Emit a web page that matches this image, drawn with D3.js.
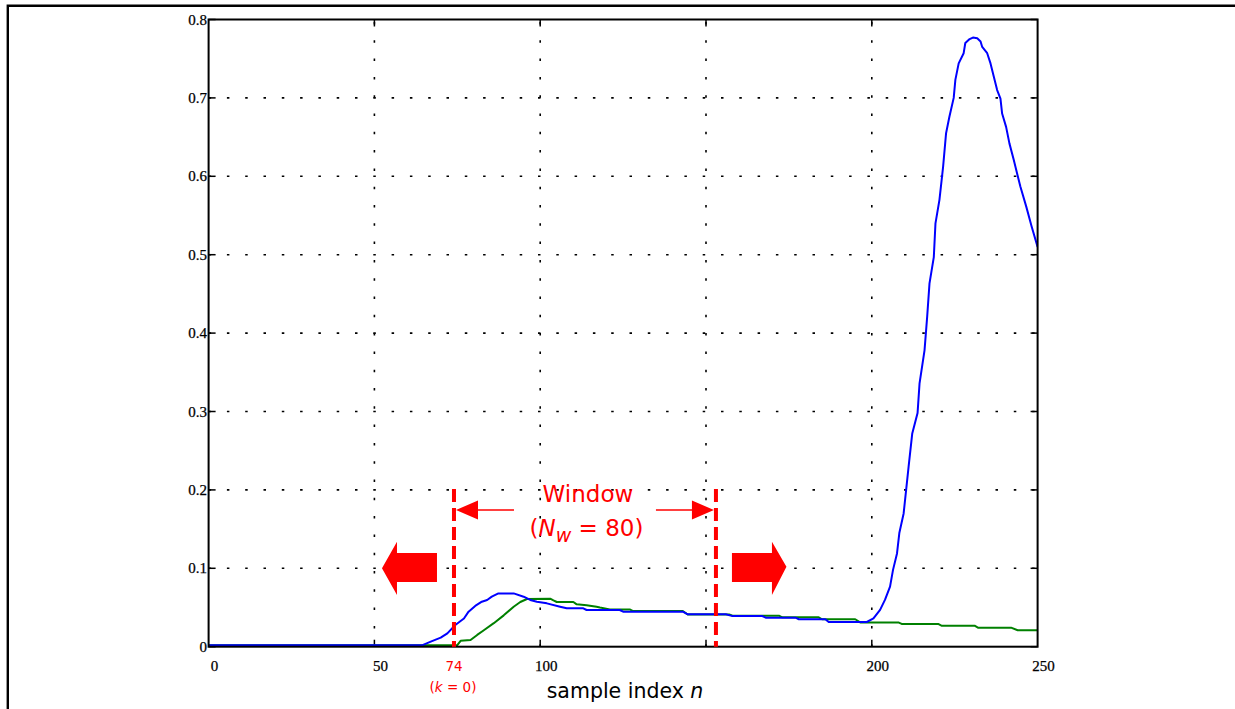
<!DOCTYPE html>
<html>
<head>
<meta charset="utf-8">
<script src="https://cdn.jsdelivr.net/npm/d3@7"></script>
<style>
  html, body { margin: 0; padding: 0; background: #fff; }
  svg { display: block; }
</style>
</head>
<body>
<svg id="chart" width="1235" height="709"></svg>
<script>
// Sample indices and values of the blue trace
const blueN = [0, 64.5, 67, 70, 72, 74.4, 77, 78.4, 80.4, 82.4, 84, 85.4, 87.4, 92, 95, 97, 99, 102, 106, 108, 113, 114, 124, 125, 143, 144.5, 156, 158, 167, 168, 177, 178, 186, 187, 198.5,
  200.5, 202.5, 204, 205.5, 206.4, 207.6, 208.3, 209.6, 211.1, 212.2, 213.8, 214.4, 215.9, 216.7, 217.4, 218.7, 219.2, 220.4, 221.5, 222.4, 223.4, 224.7, 225.2, 226.2, 227.7, 228.2, 229.5, 230.5, 231.8,
  232.8, 233.3, 234.8, 235.8, 236.8, 237.8, 238.8, 239.3, 240.5, 241.5, 242.8, 243.8, 244.8, 246.6, 248.2, 250];
const blueV = [0.002, 0.002, 0.0064, 0.0115, 0.017, 0.0277, 0.036, 0.0447, 0.052, 0.0574, 0.0596, 0.0638, 0.068, 0.068, 0.0638, 0.0596, 0.0574, 0.0553, 0.051, 0.049, 0.049, 0.0468, 0.0468, 0.0447, 0.0447, 0.0413, 0.0413, 0.039, 0.039, 0.037, 0.037, 0.035, 0.035, 0.0315, 0.0315,
  0.036, 0.047, 0.060, 0.0766, 0.098, 0.119, 0.145, 0.170, 0.2296, 0.272, 0.298, 0.336, 0.378, 0.421, 0.4635, 0.497, 0.540, 0.570, 0.612, 0.655, 0.676, 0.700, 0.723, 0.744, 0.757, 0.770, 0.775, 0.777, 0.776,
  0.772, 0.765, 0.757, 0.744, 0.727, 0.710, 0.699, 0.680, 0.663, 0.642, 0.621, 0.604, 0.587, 0.561, 0.536, 0.510];

// Sample indices and values of the green trace
const greenN = [0, 75, 76, 79, 81, 83, 86, 89, 92, 94, 96, 103, 104, 105, 110, 111, 114, 117, 118, 121, 127, 128, 143, 144.5, 157, 158, 172, 173, 184, 185, 195, 196.5, 208, 209, 220, 221, 231, 232, 242, 244, 250];
const greenV = [0.002, 0.002, 0.0075, 0.0085, 0.015, 0.021, 0.030, 0.040, 0.051, 0.057, 0.0608, 0.0612, 0.059, 0.057, 0.057, 0.054, 0.053, 0.051, 0.050, 0.0476, 0.0476, 0.0455, 0.0455, 0.041, 0.041, 0.0396, 0.0396, 0.0375, 0.0375, 0.035, 0.035, 0.031, 0.031, 0.029, 0.029, 0.0268, 0.0268, 0.0243, 0.0243, 0.021, 0.021];

// Axes
const xGridValues = [50, 100, 150, 200];
const xTickLabels = [0, 50, 100, 200, 250];
const yTickValues = [0, 0.1, 0.2, 0.3, 0.4, 0.5, 0.6, 0.7, 0.8];
const xAxisTitle = "sample index ";
const xAxisVar = "n";

// Sliding window annotation
const windowStart = 74;
const windowEnd = 153;
const windowLength = 80;

const plot = { left: 208.6, right: 1037.6, top: 19.5, bottom: 646.7 };
const x = d3.scaleLinear().domain([0, 250]).range([plot.left, plot.right]);
const y = d3.scaleLinear().domain([0, 0.8]).range([plot.bottom, plot.top]);

const svg = d3.select("#chart");

// page frame (left and top rules)
svg.append("path")
  .attr("d", "M7.8,709V5.7H1235")
  .attr("fill", "none").attr("stroke", "#000").attr("stroke-width", 2.4);

svg.append("defs").append("clipPath").attr("id", "plotClip")
  .append("rect")
  .attr("x", plot.left).attr("y", plot.top)
  .attr("width", plot.right - plot.left).attr("height", plot.bottom - plot.top);

// dotted grid
const grid = svg.append("g").attr("stroke", "#000").attr("stroke-width", 1.6)
  .attr("stroke-dasharray", "2.5 15.8");
grid.selectAll("line.gx").data(xGridValues).join("line")
  .attr("x1", d => x(d)).attr("x2", d => x(d))
  .attr("y1", plot.bottom).attr("y2", plot.top);
grid.selectAll("line.gy").data(yTickValues.filter(v => v > 0 && v < 0.8)).join("line")
  .attr("x1", plot.left).attr("x2", plot.right)
  .attr("y1", d => y(d)).attr("y2", d => y(d));

// inward ticks on all four sides
const tickLen = 7;
const ticks = svg.append("g").attr("stroke", "#000").attr("stroke-width", 1.5);
ticks.selectAll("line.yl").data(yTickValues).join("line")
  .attr("x1", plot.left).attr("x2", plot.left + tickLen)
  .attr("y1", d => y(d)).attr("y2", d => y(d));
ticks.selectAll("line.yr").data(yTickValues).join("line")
  .attr("x1", plot.right - tickLen).attr("x2", plot.right)
  .attr("y1", d => y(d)).attr("y2", d => y(d));
ticks.selectAll("line.xb").data(xGridValues).join("line")
  .attr("x1", d => x(d)).attr("x2", d => x(d))
  .attr("y1", plot.bottom).attr("y2", plot.bottom - tickLen);
ticks.selectAll("line.xt").data(xGridValues).join("line")
  .attr("x1", d => x(d)).attr("x2", d => x(d))
  .attr("y1", plot.top).attr("y2", plot.top + tickLen);

// traces
const line = d3.line().x(d => x(d[0])).y(d => y(d[1]));
const traces = svg.append("g").attr("clip-path", "url(#plotClip)").attr("fill", "none")
  .attr("stroke-width", 2).attr("stroke-linejoin", "round");
traces.append("path").datum(d3.zip(greenN, greenV)).attr("stroke", "#008000").attr("d", line);
traces.append("path").datum(d3.zip(blueN, blueV)).attr("stroke", "#0000ff").attr("d", line);

// plot box
svg.append("rect")
  .attr("x", plot.left).attr("y", plot.top)
  .attr("width", plot.right - plot.left).attr("height", plot.bottom - plot.top)
  .attr("fill", "none").attr("stroke", "#000").attr("stroke-width", 2);

// tick labels
const tickFont = "'Liberation Serif', 'Times New Roman', serif";
svg.append("g").selectAll("text").data(yTickValues).join("text")
  .attr("x", plot.left - 1.5).attr("y", d => y(d)).attr("dy", "0.34em")
  .attr("text-anchor", "end").attr("font-family", tickFont).attr("font-size", 15)
  .attr("stroke", "#000").attr("stroke-width", 0.25)
  .text(d => d3.format("")(d));
svg.append("g").selectAll("text").data(xTickLabels).join("text")
  .attr("x", d => x(d) + 6).attr("y", 670.5)
  .attr("text-anchor", "middle").attr("font-family", tickFont).attr("font-size", 15)
  .attr("stroke", "#000").attr("stroke-width", 0.25)
  .text(d => d);

// axis title
const sans = "'DejaVu Sans', Verdana, sans-serif";
const title = svg.append("text").attr("x", 625).attr("y", 697.5).attr("text-anchor", "middle")
  .attr("font-family", sans).attr("font-size", 20.5).attr("fill", "#000");
title.append("tspan").text(xAxisTitle);
title.append("tspan").attr("font-style", "italic").text(xAxisVar);

// window annotation
const red = "#ff0000";
const xL = x(windowStart), xR = x(windowEnd);
const ann = svg.append("g");
ann.selectAll("line.win").data([xL, xR]).join("line")
  .attr("x1", d => d).attr("x2", d => d)
  .attr("y1", 489).attr("y2", plot.bottom)
  .attr("stroke", red).attr("stroke-width", 4).attr("stroke-dasharray", "13 6");

const arrowY = 510;
ann.append("line").attr("x1", xL + 20).attr("x2", xL + 60).attr("y1", arrowY).attr("y2", arrowY)
  .attr("stroke", red).attr("stroke-width", 1.6);
ann.append("path").attr("fill", red)
  .attr("d", `M${xL + 2},${arrowY}L${xL + 24},${arrowY - 9.5}L${xL + 24},${arrowY + 9.5}Z`);
ann.append("line").attr("x1", xR - 60).attr("x2", xR - 20).attr("y1", arrowY).attr("y2", arrowY)
  .attr("stroke", red).attr("stroke-width", 1.6);
ann.append("path").attr("fill", red)
  .attr("d", `M${xR - 2},${arrowY}L${xR - 24},${arrowY - 9.5}L${xR - 24},${arrowY + 9.5}Z`);

const xMid = (xL + xR) / 2;
ann.append("text").attr("x", xMid + 3).attr("y", 501.5).attr("text-anchor", "middle")
  .attr("font-family", sans).attr("font-size", 23).attr("fill", red).text("Window");
const nw = ann.append("text").attr("x", xMid + 1.5).attr("y", 536).attr("text-anchor", "middle")
  .attr("font-family", sans).attr("font-size", 23).attr("fill", red);
nw.append("tspan").text("(");
nw.append("tspan").attr("font-style", "italic").text("N");
nw.append("tspan").attr("font-style", "italic").attr("font-size", 19).attr("dy", 6).text("w");
nw.append("tspan").attr("dy", -6).text(" = " + windowLength + ")");

// block arrows showing the window sliding both ways
const yc = y(0.1);
const leftArrow = [[xL - 72, yc], [xL - 57, yc - 26.6], [xL - 57, yc - 15.3], [xL - 17, yc - 15.3],
  [xL - 17, yc + 13.7], [xL - 57, yc + 13.7], [xL - 57, yc + 26.6]];
const rightArrow = [[xR + 70.5, yc - 1.5], [xR + 56, yc - 26.6], [xR + 56, yc - 15.3], [xR + 16, yc - 15.3],
  [xR + 16, yc + 13.7], [xR + 56, yc + 13.7], [xR + 56, yc + 26.6]];
ann.selectAll("polygon").data([leftArrow, rightArrow]).join("polygon")
  .attr("points", d => d.map(p => p.join(",")).join(" ")).attr("fill", red);

// start index label below the axis
ann.append("text").attr("x", xL).attr("y", 670.5).attr("text-anchor", "middle")
  .attr("font-family", sans).attr("font-size", 13.5).attr("fill", red).text(windowStart);
const kl = ann.append("text").attr("x", xL - 1).attr("y", 692).attr("text-anchor", "middle")
  .attr("font-family", sans).attr("font-size", 13.5).attr("fill", red);
kl.append("tspan").text("(");
kl.append("tspan").attr("font-style", "italic").text("k");
kl.append("tspan").text(" = 0)");
</script>
</body>
</html>
